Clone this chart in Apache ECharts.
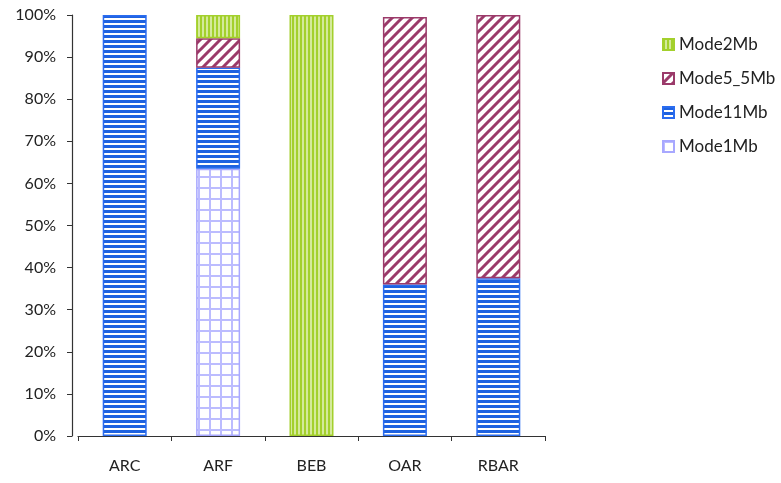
<!DOCTYPE html>
<html><head><meta charset="utf-8">
<script src="https://cdn.jsdelivr.net/npm/echarts@6/dist/echarts.min.js"></script>
<style>html,body{margin:0;padding:0;background:#fff}#c{width:781px;height:483px}</style>
</head><body><div id="c"></div>
<script>
const categories = ['ARC','ARF','BEB','OAR','RBAR'];
const mode1Mb   = [0, 63.5, 0, 0, 0];
const mode11Mb  = [100, 24, 0, 36, 37.5];
const mode5_5Mb = [0, 7, 0, 63.5, 62.5];
const mode2Mb   = [0, 5.5, 100, 0, 0];
const yTicks = [0,10,20,30,40,50,60,70,80,90,100];

function pat(w,h,draw){const c=document.createElement('canvas');c.width=w;c.height=h;const g=c.getContext('2d');draw(g,w,h);return {image:c,repeat:'repeat'};}
const pBlue = pat(5,5,(g)=>{g.fillStyle='#ffffff';g.fillRect(0,0,5,5);g.fillStyle='#1e62e0';g.fillRect(0,0,5,3);});
const pLav = pat(11,11,(g)=>{g.fillStyle='#ffffff';g.fillRect(0,0,11,11);g.fillStyle='#bcbcff';g.fillRect(0,0,11,2);g.fillRect(0,0,2,11);});
const pGreen = pat(4,4,(g)=>{g.fillStyle='#d4ea9a';g.fillRect(0,0,4,4);g.fillStyle='#a3d02c';g.fillRect(0,0,2,4);});
const pMaroon = pat(10,10,(g)=>{g.fillStyle='#ffffff';g.fillRect(0,0,10,10);g.strokeStyle='#9b3a6a';g.lineWidth=3;g.beginPath();
  g.moveTo(-2,12);g.lineTo(12,-2);g.moveTo(-7,7);g.lineTo(7,-7);g.moveTo(3,17);g.lineTo(17,3);g.stroke();});

const nz = a => a.map(v => v === 0 ? null : v);
function ser(name,data,color,border){return {name,type:'bar',stack:'s',data:nz(data),barWidth:44,
  itemStyle:{color:color,borderColor:border,borderWidth:1.5}};}

const chart = echarts.init(document.getElementById('c'));
chart.setOption({
  animation:false,
  textStyle:{fontFamily:'Lato, "Open Sans", sans-serif'},
  grid:{left:78,right:236,top:15,bottom:47},
  legend:{orient:'vertical',left:657,top:31,itemGap:17,itemWidth:11,itemHeight:11,icon:'rect',
    data:['Mode2Mb','Mode5_5Mb','Mode11Mb','Mode1Mb'],
    textStyle:{fontSize:17,color:'#222',padding:[0,0,0,0]}},
  xAxis:{type:'category',data:categories,
    axisLine:{lineStyle:{color:'#333',width:1.2}},
    axisTick:{show:true,length:5,lineStyle:{color:'#333'}},
    axisLabel:{color:'#222',fontSize:16,margin:22}},
  yAxis:{type:'value',min:0,max:100,interval:10,offset:6,
    axisLine:{show:true,lineStyle:{color:'#333',width:1.2}},
    axisTick:{show:true,inside:false,length:5,lineStyle:{color:'#333'}},
    splitLine:{show:false},
    axisLabel:{color:'#222',fontSize:16,margin:16,formatter:v=>v+'%'}},
  series:[
    ser('Mode1Mb',mode1Mb,pLav,'#a8a8ff'),
    ser('Mode11Mb',mode11Mb,pBlue,'#2a6cf0'),
    ser('Mode5_5Mb',mode5_5Mb,pMaroon,'#9b3a6a'),
    ser('Mode2Mb',mode2Mb,pGreen,'#a3d02c')
  ]
});
</script></body></html>
